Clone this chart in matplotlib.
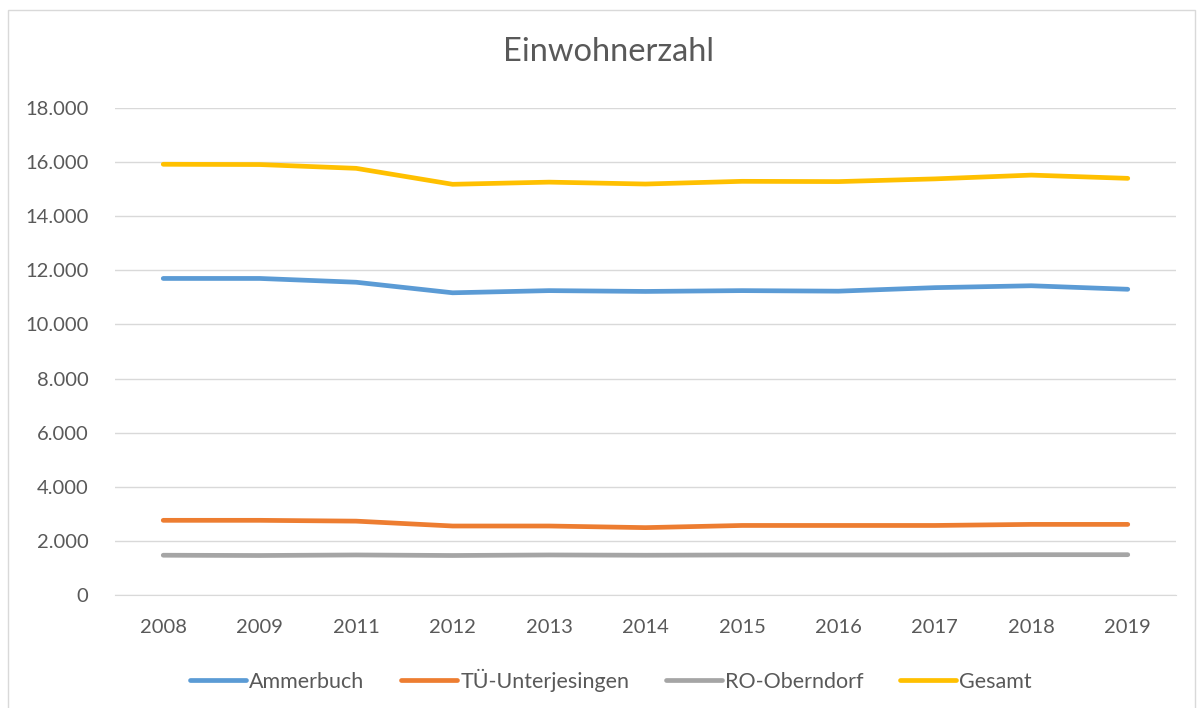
import matplotlib
matplotlib.use("Agg")
import matplotlib.pyplot as plt
from matplotlib.patches import Rectangle

years = ["2008", "2009", "2011", "2012", "2013", "2014", "2015", "2016", "2017", "2018", "2019"]
ammerbuch = [11700, 11700, 11560, 11170, 11250, 11220, 11250, 11230, 11360, 11430, 11300]
unterjesingen = [2760, 2760, 2730, 2550, 2550, 2490, 2570, 2570, 2570, 2610, 2610]
oberndorf = [1470, 1460, 1480, 1460, 1480, 1470, 1480, 1480, 1480, 1490, 1490]
gesamt = [15920, 15910, 15770, 15180, 15260, 15190, 15290, 15280, 15380, 15520, 15400]
series_names = ["Ammerbuch", "TÜ-Unterjesingen", "RO-Oberndorf", "Gesamt"]
colors = ["#5b9bd5", "#ed7d31", "#a5a5a5", "#ffc000"]
yticks = list(range(0, 18001, 2000))
ytick_labels = ["0", "2.000", "4.000", "6.000", "8.000", "10.000", "12.000", "14.000", "16.000", "18.000"]

plt.rcParams['font.family'] = ['Lato', 'DejaVu Sans']
W, H = 1203, 708
fig = plt.figure(figsize=(W / 100, H / 100), dpi=100)
fig.patch.set_facecolor("white")
fig.add_artist(Rectangle((8 / W, -0.01), (1195 - 8) / W, (H - 10) / H + 0.01,
                         transform=fig.transFigure, fill=False, edgecolor="#d9d9d9", lw=1))

left, right, top, bottom = 115, 1176, 108, 595
ax = fig.add_axes([left / W, 1 - bottom / H, (right - left) / W, (bottom - top) / H])
x = list(range(len(years)))
for vals, name, c in zip([ammerbuch, unterjesingen, oberndorf, gesamt], series_names, colors):
    ax.plot(x, vals, color=c, lw=3.4, label=name, solid_capstyle="round", zorder=3)

ax.set_xlim(-0.5, len(years) - 0.5)
ax.set_ylim(0, 18000)
ax.set_yticks(yticks)
ax.set_yticklabels(ytick_labels)
ax.set_xticks(x)
ax.set_xticklabels(years)
ax.grid(axis="y", color="#d9d9d9", lw=1)
ax.set_axisbelow(True)
for s in ["top", "right", "left"]:
    ax.spines[s].set_visible(False)
ax.spines["bottom"].set_color("#d9d9d9")
ax.tick_params(axis="both", length=0, labelsize=14.5, labelcolor="#595959")
ax.tick_params(axis="y", pad=19)
ax.tick_params(axis="x", pad=17)

fig.text(608 / W, 1 - 52 / H, "Einwohnerzahl", ha="center", va="center", fontsize=23.5, color="#595959")

fig.legend(loc="center", bbox_to_anchor=(611 / W, 1 - 680 / H), ncol=4, frameon=False,
           fontsize=15.5, labelcolor="#595959", handlelength=2.6, handletextpad=0.15, columnspacing=1.7)

fig.savefig("out.png", dpi=100)
